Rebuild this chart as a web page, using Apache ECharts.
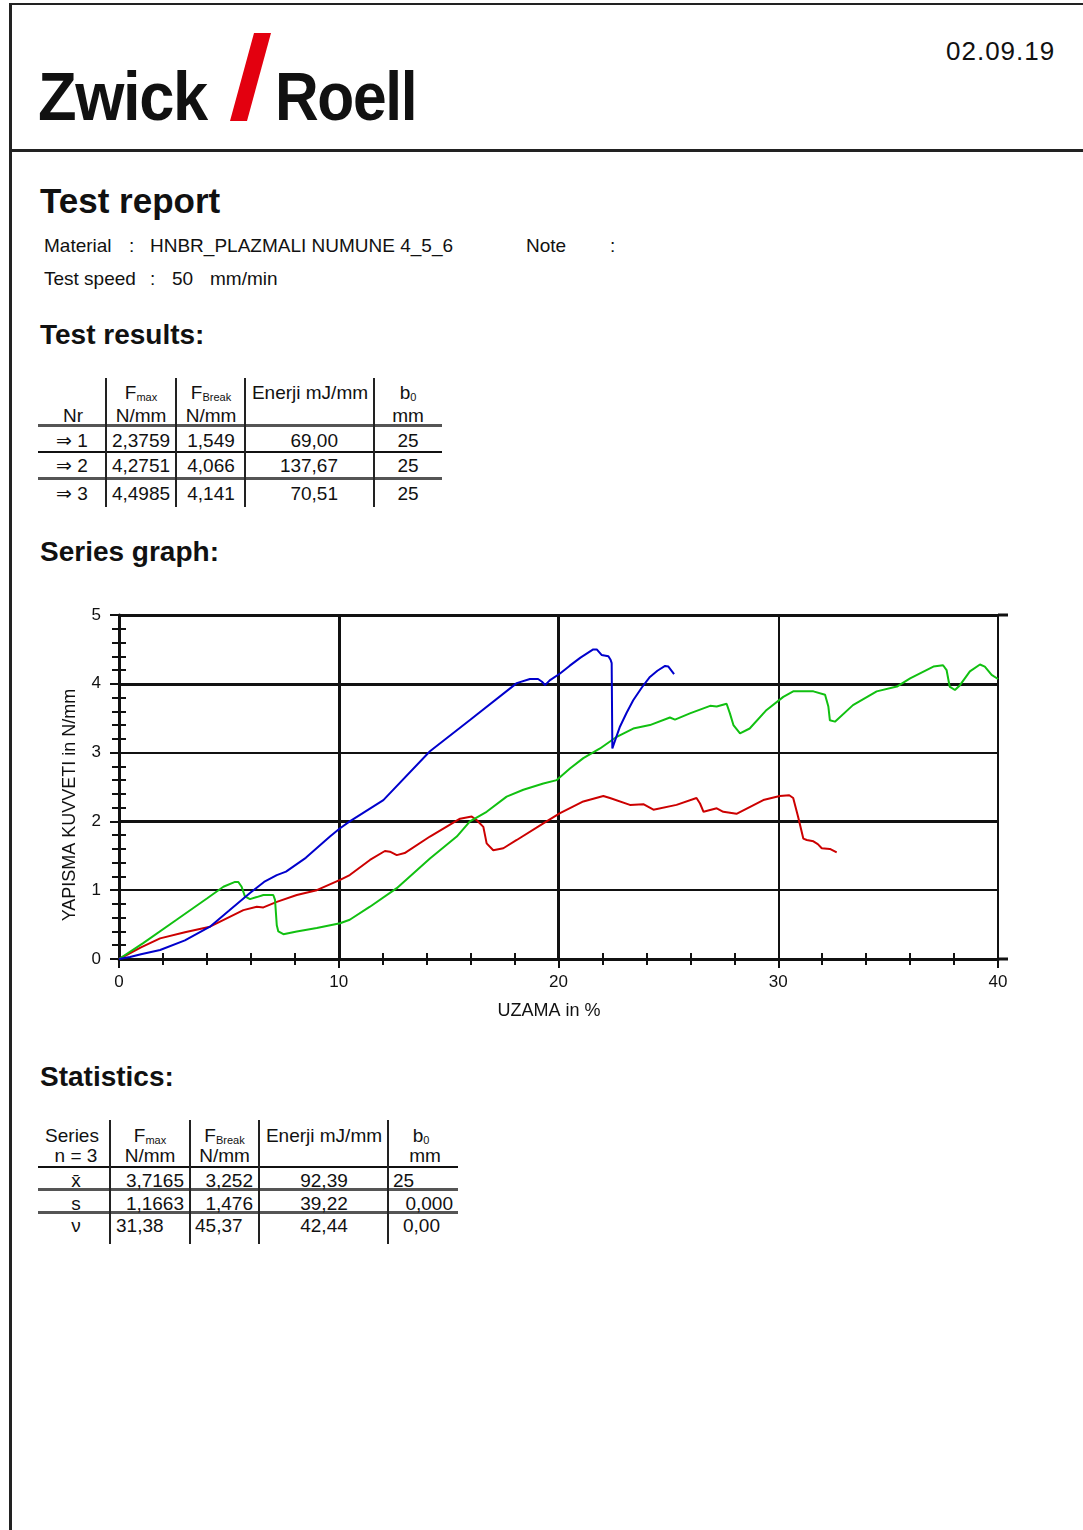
<!DOCTYPE html>
<html>
<head>
<meta charset="utf-8">
<script src="https://cdn.jsdelivr.net/npm/echarts@6/dist/echarts.min.js"></script>
<style>
  html, body { margin: 0; padding: 0; background: #fff; }
  body { font-family: "Liberation Sans", Arial, "DejaVu Sans", sans-serif; color: #111; }
  #page { position: relative; width: 1083px; height: 1530px; overflow: hidden; background: #fff; }
  .t { position: absolute; white-space: nowrap; line-height: 1; }
  .b { font-weight: bold; }
  .f19 { font-size: 19px; }
  .hl { position: absolute; }
  .sub { font-size: 11px; position: relative; top: 2px; }
  #chart { position: absolute; left: 0; top: 560px; width: 1083px; height: 480px; }
</style>
</head>
<body>
<div id="page">
  <!-- frame -->
  <div class="hl" style="left:9px;top:3px;width:1074px;height:2px;background:#222"></div>
  <div class="hl" style="left:9px;top:3px;width:3px;height:1527px;background:#222"></div>
  <div class="hl" style="left:9px;top:149px;width:1074px;height:3px;background:#222"></div>

  <!-- logo -->
  <div class="t b" style="left:38px;top:62px;font-size:68px;transform:scaleX(0.93);transform-origin:left top;letter-spacing:-1.5px">Zwick</div>
  <svg style="position:absolute;left:0;top:0" width="300" height="130"><polygon points="254,33 271,33 247,121 230,121" fill="#e3000f"/></svg>
  <div class="t b" style="left:275px;top:62px;font-size:68px;transform:scaleX(0.89);transform-origin:left top;letter-spacing:-1.5px">Roell</div>
  <div class="t" style="left:946px;top:38px;font-size:26px;letter-spacing:1px">02.09.19</div>

  <!-- titles -->
  <div class="t b" style="left:40px;top:183px;font-size:35px">Test report</div>
  <div class="t f19" style="left:44px;top:236px">Material</div>
  <div class="t f19" style="left:129px;top:236px">:</div>
  <div class="t f19" style="left:150px;top:236px">HNBR_PLAZMALI NUMUNE 4_5_6</div>
  <div class="t f19" style="left:526px;top:236px">Note</div>
  <div class="t f19" style="left:610px;top:236px">:</div>
  <div class="t f19" style="left:44px;top:269px">Test speed</div>
  <div class="t f19" style="left:150px;top:269px">:</div>
  <div class="t f19" style="left:172px;top:269px">50</div>
  <div class="t f19" style="left:210px;top:269px">mm/min</div>

  <div class="t b" style="left:40px;top:321px;font-size:28px">Test results:</div>

  <!-- results table lines -->
  <div class="hl" style="left:38px;top:424px;width:404px;height:3px;background:#555"></div>
  <div class="hl" style="left:38px;top:451px;width:404px;height:2px;background:#111"></div>
  <div class="hl" style="left:38px;top:477px;width:404px;height:3px;background:#555"></div>
  <div class="hl" style="left:105px;top:378px;width:2px;height:129px;background:#222"></div>
  <div class="hl" style="left:175px;top:378px;width:2px;height:129px;background:#222"></div>
  <div class="hl" style="left:244px;top:378px;width:2px;height:129px;background:#222"></div>
  <div class="hl" style="left:373px;top:378px;width:2px;height:129px;background:#222"></div>
  <div id="resTable"></div>

  <div class="t b" style="left:40px;top:538px;font-size:28px">Series graph:</div>

  <div id="chart"></div>

  <div class="t b" style="left:40px;top:1063px;font-size:28px">Statistics:</div>

  <!-- statistics table lines -->
  <div class="hl" style="left:38px;top:1166px;width:420px;height:2px;background:#111"></div>
  <div class="hl" style="left:38px;top:1188px;width:420px;height:3px;background:#555"></div>
  <div class="hl" style="left:38px;top:1211px;width:420px;height:3px;background:#555"></div>
  <div class="hl" style="left:109px;top:1120px;width:2px;height:124px;background:#222"></div>
  <div class="hl" style="left:189px;top:1120px;width:2px;height:124px;background:#222"></div>
  <div class="hl" style="left:258px;top:1120px;width:2px;height:124px;background:#222"></div>
  <div class="hl" style="left:387px;top:1120px;width:2px;height:124px;background:#222"></div>
  <div id="statTable"></div>
</div>

<script>
// ---------- table data ----------
const resultNr = ['1', '2', '3'];
const resultFmax = ['2,3759', '4,2751', '4,4985'];
const resultFbreak = ['1,549', '4,066', '4,141'];
const resultEnerji = ['69,00', '137,67', '70,51'];
const resultB0 = ['25', '25', '25'];

const statLabels = ['x\u0304', 's', '\u03BD'];
const statFmax = ['3,7165', '1,1663', '31,38'];
const statFbreak = ['3,252', '1,476', '45,37'];
const statEnerji = ['92,39', '39,22', '42,44'];
const statB0 = ['25', '0,000', '0,00'];

// ---------- curve data (UZAMA %, N/mm) ----------
const redX = [0, 1.0, 1.87, 3.0, 4.14, 5.66, 6.27, 6.57, 7.18, 8.09, 9.0, 10.06, 10.5, 11.42, 12.1, 12.33, 12.64, 13.0, 14.15, 15.52, 16.05, 16.27, 16.58, 16.73, 17.03, 17.49, 18.1, 19.31, 20.07, 21.13, 22.04, 22.34, 23.25, 23.86, 24.32, 25.37, 26.28, 26.44, 26.6, 27.2, 27.5, 28.1, 29.32, 30.07, 30.5, 30.68, 30.9, 31.14, 31.3, 31.6, 31.8, 31.98, 32.35, 32.66];
const redY = [0, 0.17, 0.30, 0.39, 0.47, 0.71, 0.76, 0.75, 0.83, 0.93, 1.0, 1.15, 1.22, 1.44, 1.57, 1.56, 1.51, 1.54, 1.78, 2.04, 2.07, 2.02, 1.92, 1.68, 1.58, 1.61, 1.73, 1.97, 2.12, 2.29, 2.37, 2.34, 2.24, 2.25, 2.17, 2.24, 2.34, 2.26, 2.14, 2.19, 2.14, 2.11, 2.31, 2.37, 2.38, 2.34, 2.07, 1.75, 1.73, 1.71, 1.67, 1.61, 1.60, 1.55];

const greenX = [0, 1.1, 2.62, 4.0, 4.75, 5.28, 5.43, 5.58, 5.73, 5.96, 6.27, 6.57, 7.02, 7.1, 7.18, 7.25, 7.48, 8.09, 9.0, 10.06, 10.5, 11.42, 12.64, 14.15, 15.37, 15.97, 16.73, 17.64, 18.4, 19.31, 19.92, 20.52, 21.13, 21.89, 22.65, 23.4, 24.16, 25.07, 25.3, 25.98, 26.9, 27.2, 27.65, 27.8, 27.96, 28.26, 28.7, 29.47, 30.23, 30.68, 31.6, 32.13, 32.28, 32.35, 32.58, 33.4, 34.48, 35.4, 36.0, 37.06, 37.5, 37.66, 37.8, 38.04, 38.27, 38.72, 39.18, 39.4, 39.71, 40.0];
const greenY = [0, 0.23, 0.57, 0.88, 1.05, 1.12, 1.12, 1.05, 0.91, 0.87, 0.90, 0.93, 0.93, 0.86, 0.49, 0.40, 0.36, 0.40, 0.45, 0.52, 0.57, 0.76, 1.03, 1.46, 1.78, 2.0, 2.14, 2.36, 2.46, 2.55, 2.60, 2.77, 2.92, 3.06, 3.23, 3.35, 3.40, 3.51, 3.48, 3.57, 3.68, 3.67, 3.71, 3.57, 3.40, 3.28, 3.35, 3.62, 3.81, 3.89, 3.89, 3.84, 3.67, 3.47, 3.45, 3.69, 3.89, 3.96, 4.08, 4.25, 4.27, 4.20, 3.96, 3.91, 3.98, 4.18, 4.28, 4.25, 4.13, 4.07];

const blueX = [0, 0.5, 1.0, 1.87, 3.0, 4.14, 5.0, 5.96, 6.6, 7.18, 7.6, 8.5, 9.6, 10.06, 10.5, 12.03, 14.15, 16.0, 18.1, 18.7, 19.07, 19.25, 19.39, 19.6, 20.07, 20.5, 21.0, 21.58, 21.74, 21.96, 22.27, 22.37, 22.42, 22.45, 22.6, 22.8, 23.1, 23.4, 23.8, 24.16, 24.5, 24.85, 25.0, 25.26];
const blueY = [0, 0.03, 0.07, 0.13, 0.27, 0.47, 0.70, 0.96, 1.12, 1.22, 1.27, 1.47, 1.78, 1.90, 2.0, 2.31, 3.02, 3.48, 4.01, 4.07, 4.07, 4.03, 3.98, 4.05, 4.15, 4.26, 4.38, 4.50, 4.50, 4.42, 4.40, 4.35, 4.30, 3.06, 3.2, 3.38, 3.58, 3.76, 3.95, 4.10, 4.19, 4.26, 4.25, 4.14];

// axis ticks / grid values
const xGridValues = [10, 20, 30, 40];
const yGridValues = [1, 2, 3, 4, 5];
const xAxisName = 'UZAMA in %';
const yAxisName = 'YAPISMA KUVVETI in N/mm';

// ---------- build tables ----------
function cell(parent, text, left, top, width, align, html) {
  const d = document.createElement('div');
  d.className = 't f19';
  d.style.left = left + 'px';
  d.style.top = top + 'px';
  if (width) { d.style.width = width + 'px'; d.style.textAlign = align; }
  if (html) d.innerHTML = text; else d.textContent = text;
  parent.appendChild(d);
}
const rt = document.getElementById('resTable');
cell(rt, 'Nr', 38, 406, 70, 'center');
cell(rt, 'F<span class="sub">max</span>', 101, 383, 80, 'center', true);
cell(rt, 'N/mm', 101, 406, 80, 'center');
cell(rt, 'F<span class="sub">Break</span>', 171, 383, 80, 'center', true);
cell(rt, 'N/mm', 171, 406, 80, 'center');
cell(rt, 'Enerji mJ/mm', 250, 383, 120, 'center');
cell(rt, 'b<span class="sub">0</span>', 368, 383, 80, 'center', true);
cell(rt, 'mm', 368, 406, 80, 'center');
const rowTops = [431, 456, 484];
resultNr.forEach((n, i) => {
  cell(rt, '\u21D2 ' + n, 38, rowTops[i], 68, 'center');
  cell(rt, resultFmax[i], 101, rowTops[i], 80, 'center');
  cell(rt, resultFbreak[i], 171, rowTops[i], 80, 'center');
  cell(rt, resultEnerji[i], 250, rowTops[i], 88, 'right');
  cell(rt, resultB0[i], 368, rowTops[i], 80, 'center');
});

const st = document.getElementById('statTable');
cell(st, 'Series', 36, 1126, 72, 'center');
cell(st, 'n = 3', 40, 1146, 72, 'center');
cell(st, 'F<span class="sub">max</span>', 110, 1126, 80, 'center', true);
cell(st, 'N/mm', 110, 1146, 80, 'center');
cell(st, 'F<span class="sub">Break</span>', 190, 1126, 69, 'center', true);
cell(st, 'N/mm', 190, 1146, 69, 'center');
cell(st, 'Enerji mJ/mm', 260, 1126, 128, 'center');
cell(st, 'b<span class="sub">0</span>', 388, 1126, 66, 'center', true);
cell(st, 'mm', 392, 1146, 66, 'center');
const statTops = [1171, 1194, 1216];
statLabels.forEach((l, i) => {
  cell(st, l, 40, statTops[i], 72, 'center');
  cell(st, statEnerji[i], 260, statTops[i], 128, 'center');
});
// value columns with the report's mixed alignment
cell(st, statFmax[0], 100, statTops[0], 84, 'right');
cell(st, statFmax[1], 100, statTops[1], 84, 'right');
cell(st, statFmax[2], 116, statTops[2]);
cell(st, statFbreak[0], 180, statTops[0], 73, 'right');
cell(st, statFbreak[1], 180, statTops[1], 73, 'right');
cell(st, statFbreak[2], 195, statTops[2]);
cell(st, statB0[0], 393, statTops[0]);
cell(st, statB0[1], 380, statTops[1], 73, 'right');
cell(st, statB0[2], 403, statTops[2]);

// ---------- chart ----------
const FONT = '"Liberation Sans", Arial, sans-serif';
const chart = echarts.init(document.getElementById('chart'), null, { renderer: 'canvas' });
const pairs = (xs, ys) => xs.map((x, i) => [x, ys[i]]);
const heavyX = v => v === 10 || v === 20;
const heavyY = v => v === 2 || v === 4 || v === 5;

const gridLines = [];
yGridValues.forEach(v => gridLines.push({ yAxis: v, lineStyle: { width: heavyY(v) ? 3 : 2 } }));
xGridValues.forEach(v => gridLines.push({ xAxis: v, lineStyle: { width: heavyX(v) ? 3 : 2 } }));

const lineSeries = (name, xs, ys, color, extra) => Object.assign({
  name, type: 'line', data: pairs(xs, ys), showSymbol: false, symbol: 'none',
  lineStyle: { color, width: 2 }, itemStyle: { color }, z: 3, animation: false, clip: false
}, extra || {});

chart.setOption({
  animation: false,
  grid: { left: 119, top: 55, width: 879, height: 344 },
  xAxis: [{
    type: 'value', min: 0, max: 40, interval: 10, position: 'bottom',
    name: xAxisName, nameLocation: 'middle', nameGap: 43,
    nameTextStyle: { fontSize: 18, color: '#111', fontFamily: FONT, padding: [0, 19, 0, 0] },
    axisLine: { show: true, onZero: false, lineStyle: { color: '#111', width: 3 } },
    axisTick: { show: true, length: 9, lineStyle: { color: '#111', width: 2 } },
    minorTick: { show: true, splitNumber: 5, length: 6, lineStyle: { color: '#111', width: 2 } },
    axisLabel: { fontSize: 17, color: '#111', fontFamily: FONT, margin: 15 },
    splitLine: { show: false }
  }, {
    type: 'value', min: 0, max: 40, interval: 10, position: 'bottom',
    axisLine: { show: false },
    axisTick: { show: true, inside: true, length: 6, lineStyle: { color: '#111', width: 2 } },
    minorTick: { show: true, splitNumber: 5, length: 6, lineStyle: { color: '#111', width: 2 } },
    axisLabel: { show: false }, splitLine: { show: false }
  }],
  yAxis: [{
    type: 'value', min: 0, max: 5, interval: 1, position: 'left',
    name: yAxisName, nameLocation: 'middle', nameGap: 40,
    nameTextStyle: { fontSize: 18, color: '#111', fontFamily: FONT, padding: [0, 36, 0, 0] },
    axisLine: { show: true, onZero: false, lineStyle: { color: '#111', width: 3 } },
    axisTick: { show: true, length: 9, lineStyle: { color: '#111', width: 2 } },
    minorTick: { show: true, splitNumber: 5, length: 7, lineStyle: { color: '#111', width: 2 } },
    axisLabel: { fontSize: 17, color: '#111', fontFamily: FONT, margin: 18 },
    splitLine: { show: false }
  }, {
    type: 'value', min: 0, max: 5, interval: 1, position: 'left',
    axisLine: { show: false },
    axisTick: { show: true, inside: true, length: 7, lineStyle: { color: '#111', width: 2 } },
    minorTick: { show: true, splitNumber: 5, length: 7, lineStyle: { color: '#111', width: 2 } },
    axisLabel: { show: false }, splitLine: { show: false }
  }],
  series: [
    lineSeries('1', redX, redY, '#cc0000', {
      markLine: {
        silent: true, symbol: ['none', 'none'], z: 1, animation: false,
        label: { show: false }, emphasis: { disabled: true },
        lineStyle: { color: '#111', type: 'solid' },
        data: gridLines
      }
    }),
    lineSeries('2', greenX, greenY, '#11c011'),
    lineSeries('3', blueX, blueY, '#0000cc')
  ]
});

// extend top border and x-axis line slightly beyond the plot, as in the report
const pTop = chart.convertToPixel({ gridIndex: 0 }, [40, 5]);
const pBot = chart.convertToPixel({ gridIndex: 0 }, [40, 0]);
chart.setOption({
  graphic: [
    { type: 'line', silent: true, z: 1, shape: { x1: pTop[0], y1: pTop[1], x2: pTop[0] + 10, y2: pTop[1] }, style: { stroke: '#111', lineWidth: 3 } },
    { type: 'line', silent: true, z: 1, shape: { x1: pBot[0], y1: pBot[1], x2: pBot[0] + 10, y2: pBot[1] }, style: { stroke: '#111', lineWidth: 3 } }
  ]
});
</script>
</body>
</html>
